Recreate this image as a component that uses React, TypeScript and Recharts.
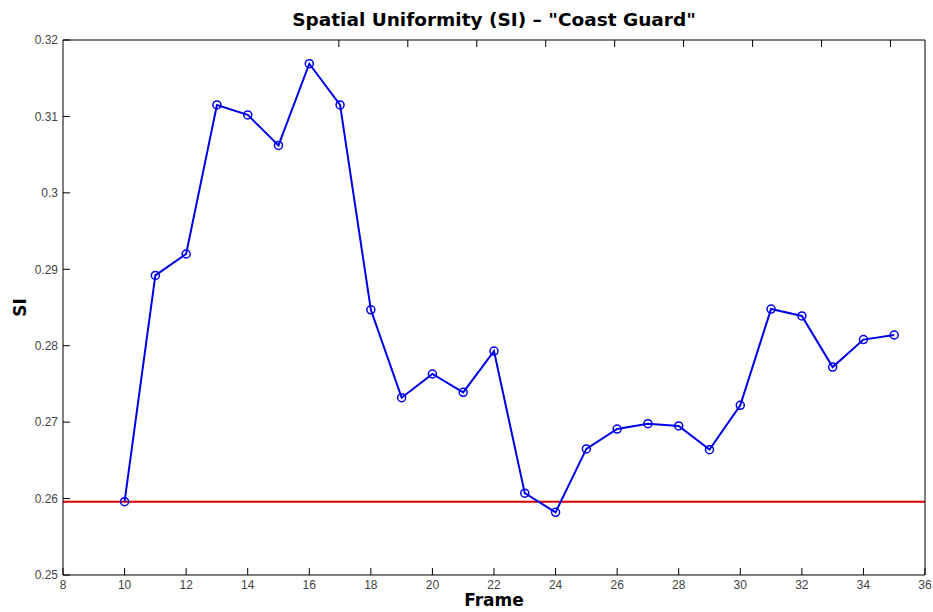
import { ComposedChart, Line, ReferenceLine, XAxis, YAxis } from "recharts";

// SI per frame, plus the reference level drawn in red
const FRAMES = [10, 11, 12, 13, 14, 15, 16, 17, 18, 19, 20, 21, 22, 23, 24, 25, 26, 27, 28, 29, 30, 31, 32, 33, 34, 35];
const SI_VALUES = [
  0.2596, 0.2892, 0.292, 0.3115, 0.3102, 0.3062, 0.3169, 0.3115, 0.2847, 0.2732, 0.2763, 0.2739, 0.2793,
  0.2607, 0.2582, 0.2665, 0.2691, 0.2698, 0.2695, 0.2664, 0.2722, 0.2848, 0.2839, 0.2772, 0.2808, 0.2814,
];
const SI_REFERENCE = 0.2596;

const X_TICKS = [8, 10, 12, 14, 16, 18, 20, 22, 24, 26, 28, 30, 32, 34, 36];
const Y_TICKS = [0.25, 0.26, 0.27, 0.28, 0.29, 0.3, 0.31, 0.32];

const data = FRAMES.map((frame, i) => ({ frame, si: SI_VALUES[i] }));

const W = 933;
const H = 612;
const FONT = "'Liberation Sans', Arial, sans-serif";
const HEAVY = "'DejaVu Sans', 'Liberation Sans', sans-serif";
const tickStyle = { fontSize: 12, fill: "#444", fontFamily: FONT };
const heavyStyle = { fontFamily: HEAVY, fontWeight: 700, fontSize: 17, fill: "#000" };
const blank = () => "";
const fmtY = (v: number) => String(Number(v.toFixed(2)));

export default function App() {
  return (
    <div style={{ position: "fixed", left: 0, top: 0, width: W, height: H, background: "#fff" }}>
      <div
        style={{
          position: "absolute",
          left: 63,
          width: 862,
          top: 9,
          textAlign: "center",
          fontFamily: HEAVY,
          fontWeight: 700,
          fontSize: 18.5,
          lineHeight: "22px",
          color: "#000",
          whiteSpace: "nowrap",
        }}
      >
        Spatial Uniformity (SI) – "Coast Guard"
      </div>
      <ComposedChart width={W} height={H} data={data} margin={{ top: 10, right: 0, bottom: 0, left: 0 }}>
        <XAxis
          xAxisId="bottom"
          dataKey="frame"
          type="number"
          domain={[8, 36]}
          ticks={X_TICKS}
          height={37}
          tickSize={-7}
          tickMargin={12}
          tick={tickStyle}
          axisLine={{ stroke: "#000" }}
          tickLine={{ stroke: "#000" }}
          label={{ value: "Frame", position: "insideBottom", offset: 6, style: heavyStyle }}
        />
        <XAxis
          xAxisId="top"
          orientation="top"
          type="number"
          domain={[8, 36]}
          ticks={X_TICKS}
          height={30}
          tickSize={-7}
          tickFormatter={blank}
          axisLine={{ stroke: "#000" }}
          tickLine={{ stroke: "#000" }}
        />
        <YAxis
          yAxisId="left"
          type="number"
          domain={[0.25, 0.32]}
          ticks={Y_TICKS}
          width={63}
          tickSize={-7}
          tickMargin={12}
          tickFormatter={fmtY}
          tick={tickStyle}
          axisLine={{ stroke: "#000" }}
          tickLine={{ stroke: "#000" }}
          label={{
            content: (props: any) => {
              const vb = props.viewBox;
              const cx = 20;
              const cy = vb.y + vb.height / 2;
              return (
                <text
                  x={cx}
                  y={cy}
                  transform={`rotate(-90, ${cx}, ${cy})`}
                  textAnchor="middle"
                  dominantBaseline="central"
                  style={heavyStyle}
                >
                  SI
                </text>
              );
            },
          }}
        />
        <YAxis
          yAxisId="right"
          orientation="right"
          type="number"
          domain={[0.25, 0.32]}
          ticks={Y_TICKS}
          width={8}
          tickSize={-7}
          tickFormatter={blank}
          axisLine={{ stroke: "#000" }}
          tickLine={{ stroke: "#000" }}
        />
        <ReferenceLine xAxisId="bottom" yAxisId="left" y={SI_REFERENCE} stroke="#e00000" strokeWidth={2} />
        <Line
          xAxisId="bottom"
          yAxisId="left"
          type="linear"
          dataKey="si"
          stroke="#0000e8"
          strokeWidth={2}
          dot={{ r: 4, stroke: "#0000e8", strokeWidth: 1.5, fill: "none" }}
          activeDot={false}
          isAnimationActive={false}
        />
      </ComposedChart>
    </div>
  );
}
